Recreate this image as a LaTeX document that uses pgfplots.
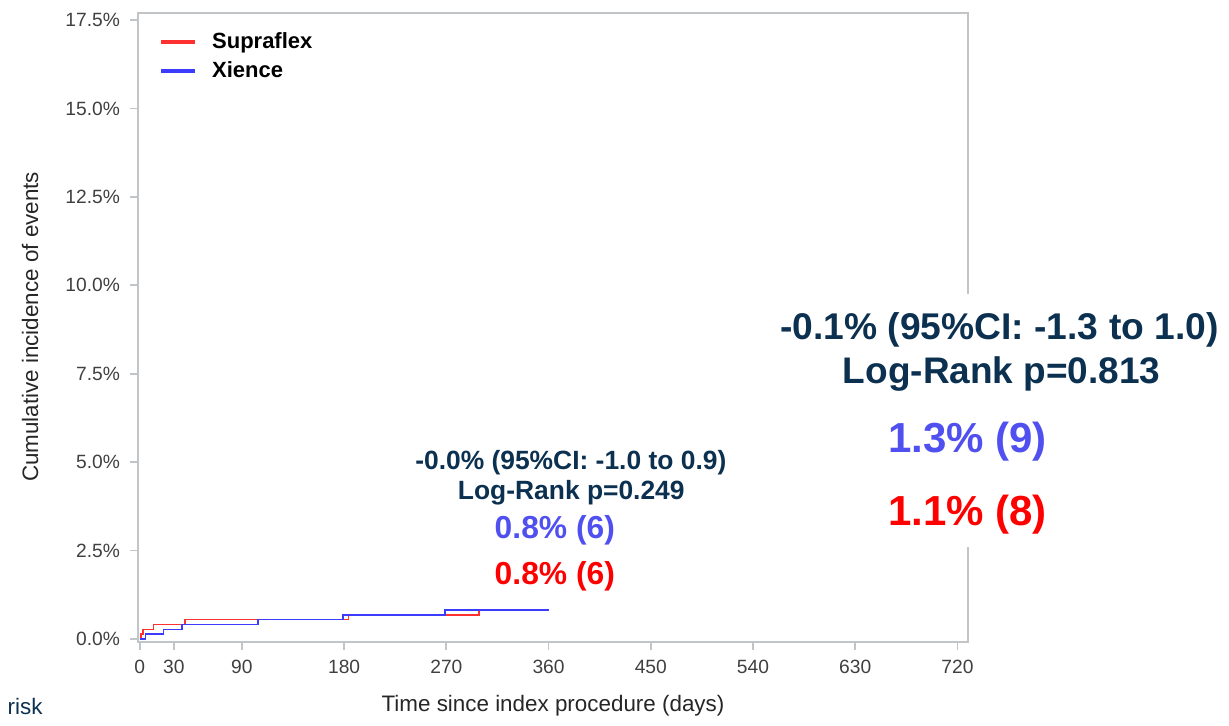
\documentclass[border=0pt]{standalone}
\usepackage{pgfplots}
\pgfplotsset{compat=1.18}
\usepackage{fontspec}
\setmainfont{Liberation Sans}
\definecolor{navy}{HTML}{0B3050}
\definecolor{ablue}{HTML}{5050F0}
\definecolor{cred}{HTML}{FF3030}
\definecolor{cblue}{HTML}{3C3CFF}
\definecolor{frame}{HTML}{C2C5C8}
\definecolor{ticklab}{HTML}{404040}
\begin{document}
\begin{tikzpicture}
\path[use as bounding box] (-69pt,-41.5pt) rectangle (545.5pt,321pt);
\begin{axis}[
  scale only axis,
  width=415pt, height=314.5pt,
  xmin=-1.5, xmax=729.3,
  ymin=-0.085, ymax=17.7,
  clip=false,
  axis line style={frame, line width=0.9pt},
  tick style={frame, line width=0.9pt},
  tick align=outside,
  major tick length=4pt,
  xtick={0,30,90,180,270,360,450,540,630,720},
  ytick={0,2.5,5,7.5,10,12.5,15,17.5},
  yticklabels={0.0\%,2.5\%,5.0\%,7.5\%,10.0\%,12.5\%,15.0\%,17.5\%},
  xtick pos=bottom, ytick pos=left,
  tick label style={font=\fontsize{9.6}{11}\selectfont, text=ticklab},
  xticklabel style={yshift=-1.5pt},
  yticklabel style={xshift=-1.5pt},
  /pgf/number format/assume math mode=true,
  xlabel={Time since index procedure (days)},
  ylabel={Cumulative incidence of events},
  label style={font=\fontsize{11.2}{13}\selectfont, text=black!85},
  xlabel style={at={(axis description cs:0.5,-0.102)}, anchor=center},
  ylabel style={at={(axis description cs:-0.130,0.501)}, anchor=center},
  legend style={at={(axis description cs:0.018,0.982)}, anchor=north west, draw=none, fill=none,
    font=\bfseries\fontsize{11}{12}\selectfont, row sep=1pt},
  legend cell align=left,
  legend image code/.code={\draw[#1, line width=2pt] (0pt,0pt) -- (17pt,0pt); \path (23pt,0pt);},
]
\addplot[const plot, cred, line width=0.8pt] coordinates {
  (0,0) (1,0.137) (3,0.274) (12,0.411) (40,0.548) (184,0.685) (299,0.822) (360,0.822)};
\addlegendentry{Supraflex}
\addplot[const plot, cblue, line width=0.8pt] coordinates {
  (0,0) (5,0.137) (21,0.274) (37,0.411) (104,0.548) (179,0.685) (269,0.822) (360,0.822)};
\addlegendentry{Xience}
\fill[white] (rel axis cs:0.98,0.151) rectangle (rel axis cs:1.02,0.553);
\node[font=\bfseries\fontsize{13.2}{15}\selectfont, text=navy] at (axis cs:379.6,4.98) {-0.0\% (95\%CI: -1.0 to 0.9)};
\node[font=\bfseries\fontsize{13.2}{15}\selectfont, text=navy] at (axis cs:380,4.13) {Log-Rank p=0.249};
\node[font=\bfseries\fontsize{15.9}{18}\selectfont, text=ablue] at (axis cs:365.5,3.08) {0.8\% (6)};
\node[font=\bfseries\fontsize{15.9}{18}\selectfont, text=red] at (axis cs:365.5,1.78) {0.8\% (6)};
\node[font=\bfseries\fontsize{18.6}{21}\selectfont, text=navy] at (axis cs:757,8.74) {-0.1\% (95\%CI: -1.3 to 1.0)};
\node[font=\bfseries\fontsize{18.5}{21}\selectfont, text=navy] at (axis cs:759,7.49) {Log-Rank p=0.813};
\node[font=\bfseries\fontsize{21}{24}\selectfont, text=ablue] at (axis cs:729,5.57) {1.3\% (9)};
\node[font=\bfseries\fontsize{21}{24}\selectfont, text=red] at (axis cs:729,3.53) {1.1\% (8)};
\node[font=\fontsize{11.2}{13}\selectfont, text=navy] at (axis description cs:-0.136,-0.102) {risk};
\end{axis}
\end{tikzpicture}
\end{document}
